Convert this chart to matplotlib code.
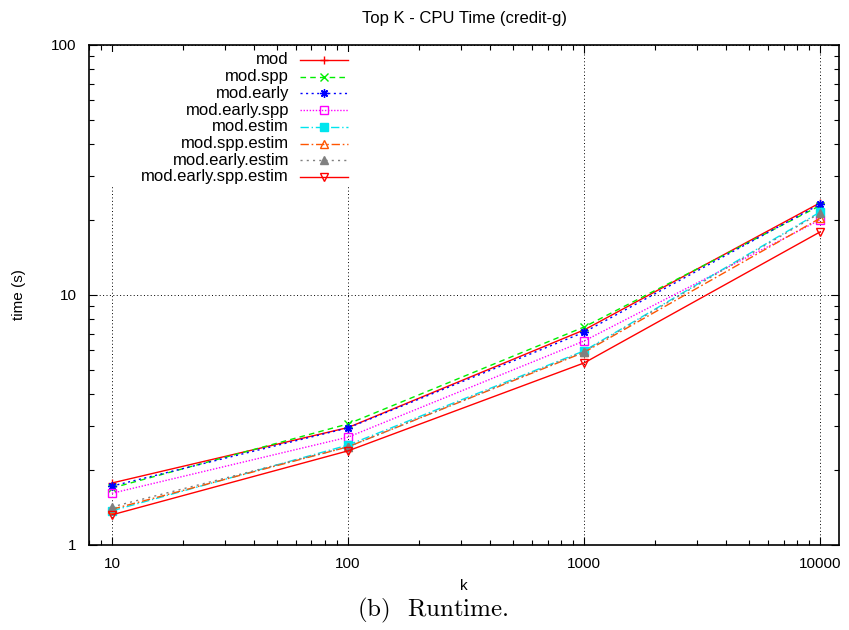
import matplotlib
matplotlib.use("Agg")
import matplotlib.pyplot as plt
from matplotlib.lines import Line2D
from matplotlib.patches import Rectangle
from matplotlib.ticker import LogLocator, NullFormatter, FixedLocator, FixedFormatter

plt.rcParams['font.family'] = ['Liberation Sans', 'DejaVu Sans']
plt.rcParams['mathtext.fontset'] = 'cm'

# Top-K runtime measurements on credit-g
k_values = [10, 100, 1000, 10000]
series_names = ["mod", "mod.spp", "mod.early", "mod.early.spp",
                "mod.estim", "mod.spp.estim", "mod.early.estim",
                "mod.early.spp.estim"]
t_mod = [1.77, 2.95, 7.25, 23.4]
t_spp = [1.69, 3.05, 7.45, 22.8]
t_early = [1.72, 2.94, 7.10, 23.1]
t_early_spp = [1.61, 2.70, 6.55, 20.0]
t_estim = [1.37, 2.51, 5.98, 21.5]
t_spp_estim = [1.39, 2.47, 5.90, 20.3]
t_early_estim = [1.42, 2.47, 5.94, 21.3]
t_early_spp_estim = [1.32, 2.38, 5.35, 17.9]
series_values = [t_mod, t_spp, t_early, t_early_spp, t_estim,
                 t_spp_estim, t_early_estim, t_early_spp_estim]
x_ticks = [10, 100, 1000, 10000]
x_ticklabels = ["10", "100", "1000", "10000"]
y_ticks = [1, 10, 100]
y_ticklabels = ["1", "10", "100"]

styles = [
    dict(color="#ff0000", ls="-", marker="+", mfc="none"),
    dict(color="#00ee00", ls=(0, (4, 3)), marker="x", mfc="none"),
    dict(color="#0000ff", ls=(0, (1.5, 2.5)), marker=(8, 2, 0), mfc="none"),
    dict(color="#ff00ff", ls=(0, (1, 1.2)), marker="s", mfc="none"),
    dict(color="#00e5ee", ls=(0, (6, 2, 1, 2)), marker="s", mfc="#00e5ee"),
    dict(color="#ff5500", ls=(0, (6, 2, 1.2, 2)), marker="^", mfc="none"),
    dict(color="#808080", ls=(0, (1.5, 3)), marker="^", mfc="#808080"),
    dict(color="#ff0000", ls="-", marker="v", mfc="none"),
]

fig = plt.figure(figsize=(8.49, 6.3), dpi=100)
ax = fig.add_axes([89 / 849, 1 - 545 / 630, 750 / 849, 500 / 630])
ax.set_xscale("log")
ax.set_yscale("log")
ax.set_xlim(8, 12000)
ax.set_ylim(1, 100)

for vals, st in zip(series_values, styles):
    ax.plot(k_values, vals, color=st["color"], ls=st["ls"], lw=1.0,
            marker=st["marker"], ms=6, mew=1.0, mfc=st["mfc"],
            mec=st["color"], zorder=3)

ax.xaxis.set_major_locator(FixedLocator(x_ticks))
ax.xaxis.set_major_formatter(FixedFormatter(x_ticklabels))
ax.yaxis.set_major_locator(FixedLocator(y_ticks))
ax.yaxis.set_major_formatter(FixedFormatter(y_ticklabels))
ax.xaxis.set_minor_locator(LogLocator(base=10, subs=range(2, 10)))
ax.yaxis.set_minor_locator(LogLocator(base=10, subs=range(2, 10)))
ax.xaxis.set_minor_formatter(NullFormatter())
ax.yaxis.set_minor_formatter(NullFormatter())
ax.tick_params(which="both", direction="in", top=True, right=True,
               labelsize=11, width=0.8, color="black")
ax.tick_params(which="major", length=6)
ax.tick_params(which="minor", length=3.5)
ax.tick_params(axis="x", which="major", pad=9)
ax.tick_params(axis="y", which="major", pad=9)
for sp in ax.spines.values():
    sp.set_linewidth(1.2)

ax.set_axisbelow(True)
ax.grid(True, which="major", color="black", ls=(0, (1, 2.5)), lw=0.7)

# opaque key box
ax.add_patch(Rectangle((0.015, 0.718), 0.338, 0.268, transform=ax.transAxes,
                       facecolor="white", edgecolor="none", zorder=1))
for i, (name, st) in enumerate(zip(series_names, styles)):
    yy = 1 - (60 + i * 16.7 - 45) / 500
    ax.text(0.2667, yy, name, transform=ax.transAxes, ha="right",
            va="center", fontsize=12, zorder=4)
    ax.add_line(Line2D([0.2813, 0.3453], [yy, yy], transform=ax.transAxes,
                       color=st["color"], ls=st["ls"], lw=1.0, zorder=4))
    ax.add_line(Line2D([0.3133], [yy], transform=ax.transAxes,
                       color=st["color"], ls="none", marker=st["marker"],
                       ms=6, mew=1.0, mfc=st["mfc"], mec=st["color"],
                       zorder=4))

fig.text(464 / 849, 1 - 18 / 630, "Top K - CPU Time (credit-g)",
         ha="center", va="center", fontsize=12)
fig.text(464 / 849, 1 - 586 / 630, "k", ha="center", va="center", fontsize=11)
fig.text(19 / 849, 1 - 295 / 630, "time (s)", ha="center", va="center",
         rotation=90, fontsize=11)
# sub-figure caption
fig.text(390 / 849, 1 - 616 / 630, r"$\mathrm{(b)}$",
         ha="right", va="baseline", fontsize=18)
fig.text(407 / 849, 1 - 616 / 630, r"$\mathrm{Runtime.}$",
         ha="left", va="baseline", fontsize=18)

fig.savefig("out.png", dpi=100)
